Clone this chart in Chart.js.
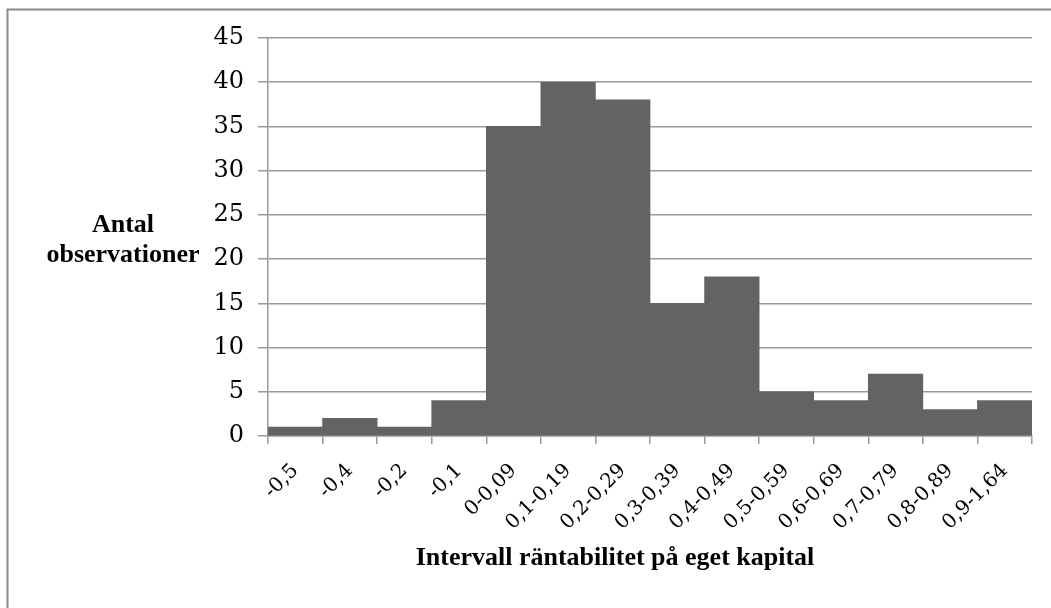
<!DOCTYPE html>
<html lang="sv">
<head>
    <meta charset="UTF-8">
    <title>Antal observationer per intervall</title>
    <style>
        * { margin: 0; padding: 0; box-sizing: border-box; }
        body { background: #fff; width: 1051px; height: 608px; overflow: hidden; }
    </style>
</head>
<body>
    <canvas id="histChart" width="1051" height="608"></canvas>

    <script src="https://cdn.jsdelivr.net/npm/chart.js"></script>
    <script>
        // Data
        const intervals = ["-0,5", "-0,4", "-0,2", "-0,1", "0-0,09", "0,1-0,19", "0,2-0,29",
                           "0,3-0,39", "0,4-0,49", "0,5-0,59", "0,6-0,69", "0,7-0,79", "0,8-0,89", "0,9-1,64"];
        const counts = [1, 2, 1, 4, 35, 40, 38, 15, 18, 5, 4, 7, 3, 4];
        const yTitleLines = ["Antal", "observationer"];
        const xTitle = "Intervall räntabilitet på eget kapital";

        // Frame + axis titles drawn on the canvas
        const decorations = {
            id: "decorations",
            beforeDraw(chart) {
                const ctx = chart.ctx;
                ctx.save();
                ctx.strokeStyle = "#8a8a8a";
                ctx.lineWidth = 2;
                ctx.strokeRect(7.5, 9.5, 2000, 2000);
                ctx.restore();
            },
            afterDraw(chart) {
                const ctx = chart.ctx;
                ctx.save();
                ctx.fillStyle = "#000";
                ctx.textAlign = "center";
                ctx.textBaseline = "alphabetic";
                ctx.font = 'bold 26px "Liberation Serif", serif';
                ctx.fillText(yTitleLines[0], 123, 232);
                ctx.fillText(yTitleLines[1], 123, 262);
                ctx.fillText(xTitle, 615, 565);
                ctx.restore();
            }
        };

        new Chart(document.getElementById("histChart"), {
            type: "bar",
            data: {
                labels: intervals,
                datasets: [{
                    data: counts,
                    backgroundColor: "#636363",
                    borderWidth: 0,
                    categoryPercentage: 1,
                    barPercentage: 1
                }]
            },
            options: {
                responsive: false,
                animation: false,
                layout: { padding: { top: 38, right: 19, bottom: 0, left: 0 } },
                plugins: {
                    legend: { display: false },
                    tooltip: { enabled: false }
                },
                scales: {
                    x: {
                        afterFit(scale) { scale.height = 172; },
                        border: { color: "#999", width: 1.5 },
                        grid: { offset: true, drawOnChartArea: false, drawTicks: true, tickLength: 8, color: "#999", lineWidth: 1.5 },
                        ticks: {
                            color: "#000",
                            font: { family: '"DejaVu Serif", serif', size: 20 },
                            minRotation: 45,
                            maxRotation: 45,
                            autoSkip: false,
                            padding: 15
                        }
                    },
                    y: {
                        min: 0,
                        max: 45,
                        afterFit(scale) { scale.width = 268; },
                        border: { color: "#999", width: 1.5 },
                        grid: { color: "#999", lineWidth: 1.5, tickLength: 10 },
                        ticks: {
                            stepSize: 5,
                            color: "#000",
                            font: { family: '"DejaVu Serif", serif', size: 24 },
                            padding: 14
                        }
                    }
                }
            },
            plugins: [decorations]
        });
    </script>
</body>
</html>
